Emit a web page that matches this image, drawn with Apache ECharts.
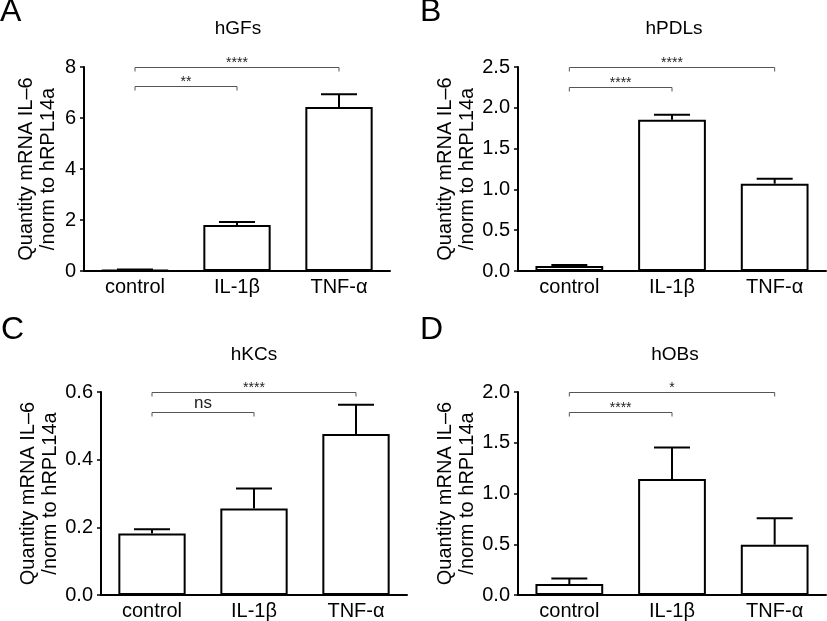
<!DOCTYPE html>
<html><head><meta charset="utf-8">
<script src="https://cdn.jsdelivr.net/npm/echarts@6/dist/echarts.min.js"></script>
<style>html,body{margin:0;padding:0;background:#fff}#c{width:827px;height:621px}</style>
</head><body><div id="c"></div>
<script>
const categories = ['control', 'IL-1β', 'TNF-α'];
const panelLetters = ['A', 'B', 'C', 'D'];
const panelTitles = ['hGFs', 'hPDLs', 'hKCs', 'hOBs'];
const yAxisName = 'Quantity mRNA IL–6\n/norm to hRPL14a';

const meansA = [0.03, 1.80, 6.43];
const errorsA = [0.03, 0.12, 0.50];
const meansB = [0.06, 1.855, 1.07];
const errorsB = [0.015, 0.06, 0.06];
const meansC = [0.182, 0.256, 0.476];
const errorsC = [0.012, 0.059, 0.086];
const meansD = [0.108, 1.142, 0.496];
const errorsD = [0.055, 0.31, 0.26];

const yMaxes = [8, 2.5, 0.6, 2.0];
const yIntervals = [2, 0.5, 0.2, 0.5];
const yDecimals = [0, 1, 1, 1];

// [from category, to category, height, label]
const bracketsA = [[0, 2, 8.0, '****'], [0, 1, 7.24, '**']];
const bracketsB = [[0, 2, 2.5, '****'], [0, 1, 2.25, '****']];
const bracketsC = [[0, 2, 0.6, '****'], [0, 1, 0.541, 'ns']];
const bracketsD = [[0, 2, 2.0, '*'], [0, 1, 1.80, '****']];

const means = [meansA, meansB, meansC, meansD];
const errors = [errorsA, errorsB, errorsC, errorsD];
const brackets = [bracketsA, bracketsB, bracketsC, bracketsD];

const FONT = "'Liberation Sans', Arial, sans-serif";
const grids = [
  {left: 84, top: 67, width: 306, height: 204},
  {left: 518, top: 67, width: 308, height: 204},
  {left: 101, top: 392, width: 306, height: 204},
  {left: 518, top: 392, width: 308, height: 204}
];
const letterPos = [[0, -4], [420, -4], [1, 314], [420, 314]];
const titlePos = [[238, 19], [674, 19], [254, 345], [675, 345]];

const titles = [];
panelLetters.forEach((l, i) => titles.push({
  text: l, left: letterPos[i][0], top: letterPos[i][1], padding: 0,
  textStyle: {fontFamily: FONT, fontSize: 32, fontWeight: 'normal', color: '#000'}
}));
panelTitles.forEach((t, i) => titles.push({
  text: t, left: titlePos[i][0], top: titlePos[i][1], padding: 0, textAlign: 'center',
  textStyle: {fontFamily: FONT, fontSize: 19, fontWeight: 'normal', color: '#000'}
}));

const xAxes = [], yAxes = [], series = [];
for (let i = 0; i < 4; i++) {
  xAxes.push({
    type: 'category', gridIndex: i, data: categories,
    axisLine: {lineStyle: {color: '#000', width: 2}},
    axisTick: {show: false},
    axisLabel: {color: '#000', fontFamily: FONT, fontSize: 20, margin: 6}
  });
  const dec = yDecimals[i];
  yAxes.push({
    type: 'value', gridIndex: i, min: 0, max: yMaxes[i], interval: yIntervals[i],
    name: yAxisName, nameLocation: 'middle', nameRotate: 90, nameGap: 25,
    nameTextStyle: {color: '#000', fontFamily: FONT, fontSize: 20, lineHeight: 22},
    axisLine: {show: true, lineStyle: {color: '#000', width: 2}},
    axisTick: {show: true, length: 4, lineStyle: {color: '#000', width: 1.5}},
    splitLine: {show: false},
    axisLabel: {color: '#000', fontFamily: FONT, fontSize: 20, margin: 8,
      formatter: v => v.toFixed(dec)}
  });
  series.push({
    type: 'bar', xAxisIndex: i, yAxisIndex: i, data: means[i], barWidth: '66%',
    itemStyle: {color: '#fff', borderColor: '#000', borderWidth: 2},
    silent: true, z: 2
  });
  const errData = means[i].map((m, k) => [k, m, m + errors[i][k]]);
  series.push({
    type: 'custom', xAxisIndex: i, yAxisIndex: i, data: errData, z: 3, silent: true,
    encode: {x: 0, y: [1, 2]},
    renderItem: (params, api) => {
      const p0 = api.coord([api.value(0), api.value(1)]);
      const p1 = api.coord([api.value(0), api.value(2)]);
      return {type: 'group', children: [
        {type: 'line', shape: {x1: p0[0], y1: p0[1], x2: p1[0], y2: p1[1]},
          style: {stroke: '#000', lineWidth: 2}},
        {type: 'line', shape: {x1: p1[0] - 18, y1: p1[1], x2: p1[0] + 18, y2: p1[1]},
          style: {stroke: '#000', lineWidth: 2}}
      ]};
    }
  });
  const br = brackets[i];
  series.push({
    type: 'custom', xAxisIndex: i, yAxisIndex: i, silent: true, z: 4,
    data: br.map(b => [b[0], b[1], b[2]]),
    encode: {x: [0, 1], y: 2},
    renderItem: (params, api) => {
      const a = api.coord([api.value(0), api.value(2)]);
      const b = api.coord([api.value(1), api.value(2)]);
      const label = br[params.dataIndex][3];
      const isStar = label.indexOf('*') >= 0;
      const y = Math.round(a[1]) + 0.5;
      return {type: 'group', children: [
        {type: 'polyline', shape: {points: [[a[0], y + 4], [a[0], y], [b[0], y], [b[0], y + 4]]},
          style: {stroke: '#555', lineWidth: 1, fill: null}},
        {type: 'text', style: {text: label, x: (a[0] + b[0]) / 2, y: isStar ? y + 3 : y - 1,
          align: 'center', verticalAlign: 'bottom',
          font: (isStar ? '14px ' : '17px ') + FONT, fill: '#222'}}
      ]};
    }
  });
}

const chart = echarts.init(document.getElementById('c'), null, {renderer: 'canvas'});
chart.setOption({
  backgroundColor: '#fff', animation: false,
  title: titles, grid: grids, xAxis: xAxes, yAxis: yAxes, series: series
});
</script></body></html>
